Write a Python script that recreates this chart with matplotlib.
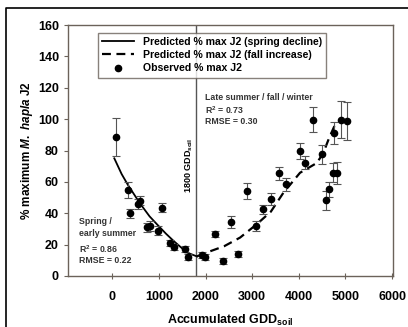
import matplotlib
matplotlib.use("Agg")
import matplotlib.pyplot as plt
from matplotlib.lines import Line2D

plt.rcParams['font.family'] = ['Liberation Sans', 'DejaVu Sans']
plt.rcParams['font.weight'] = 'bold'
plt.rcParams['axes.labelweight'] = 'bold'
plt.rcParams['mathtext.fontset'] = 'custom'
plt.rcParams['mathtext.rm'] = 'Liberation Sans:bold'
plt.rcParams['mathtext.it'] = 'Liberation Sans:italic:bold'
plt.rcParams['mathtext.bf'] = 'Liberation Sans:bold'

# observed % max J2
obs_x = [86, 336, 385, 550, 600, 743, 814, 978, 1064, 1242, 1313, 1563, 1620,
         1920, 1990, 2205, 2384, 2548, 2700, 2884, 3083, 3240, 3405, 3576, 3719,
         4026, 4133, 4297, 4504, 4582, 4653, 4739, 4824, 4760, 4897, 5025]
obs_y = [88.7, 55, 40, 46, 48, 31, 32, 29, 43.6, 21, 18.6, 17, 12,
         13.3, 12, 26.7, 9.7, 34.5, 14, 54, 32, 42.5, 49, 65.4, 58.4,
         79.6, 72.2, 99.7, 77.5, 48.3, 55.2, 65.8, 65.4, 91.2, 99.7, 99]
obs_err = [12, 5, 3, 3, 3, 3, 3, 3, 3, 2, 2, 2, 2,
           2, 2, 2, 2, 4, 2, 5, 3, 3, 4, 4, 4,
           5, 4, 8, 6, 6, 5, 6, 7, 7, 12, 12]

# predicted curves
spring_x = [43, 200, 336, 600, 800, 957, 1150, 1313, 1599, 1813]
spring_y = [75, 65, 58, 46, 38, 33, 27, 22.4, 15, 12.5]
fall_x = [1813, 2027, 2400, 2741, 3098, 3400, 3668, 4026, 4383, 4520, 4650, 4800]
fall_y = [12.5, 15, 19, 24.5, 33, 41, 53, 65.8, 72, 78, 88, 98]

xticks = [0, 1000, 2000, 3000, 4000, 5000, 6000]
yticks = [0, 20, 40, 60, 80, 100, 120, 140, 160]

fig = plt.figure(figsize=(4.08, 3.27), dpi=100)
ax = fig.add_axes([68 / 408, 1 - 276 / 327, 325 / 408, 251 / 327])

spine_c = '#6b625a'
for s in ax.spines.values():
    s.set_color(spine_c)
    s.set_linewidth(1.0)

ax.axvline(1800, color='#555555', lw=1.0)
ax.plot(spring_x, spring_y, color='black', lw=1.3)
ax.plot(fall_x, fall_y, color='black', lw=1.6, dashes=(4, 2.5))
ax.errorbar(obs_x, obs_y, yerr=obs_err, fmt='o', color='black', ms=4.5,
            ecolor='#555555', elinewidth=0.8, capsize=3, capthick=0.8)

ax.set_xlim(-950, 6020)
ax.set_ylim(0, 160)
ax.set_xticks(xticks)
ax.set_yticks(yticks)
ax.tick_params(axis='both', labelsize=9, color=spine_c, length=3, width=0.8)
ax.tick_params(axis='x', direction='inout', length=4, pad=9)

ax.set_xlabel('Accumulated GDD$_{\\mathrm{soil}}$', fontsize=9, labelpad=7)
ax.set_ylabel('% maximum $M.\\ hapla$ J2', fontsize=8.5, labelpad=2)

handles = [Line2D([], [], color='black', lw=1.3),
           Line2D([], [], color='black', lw=1.6, dashes=(4, 2.5)),
           Line2D([], [], color='black', marker='o', ms=4.5, ls='none')]
labels = ['Predicted % max J2 (spring decline)',
          'Predicted % max J2 (fall increase)',
          'Observed % max J2']
leg = ax.legend(handles, labels, loc='upper left', bbox_to_anchor=(0.075, 0.99),
                fontsize=7.6, frameon=True, fancybox=False, edgecolor=spine_c,
                borderpad=0.4, labelspacing=0.3, handlelength=3.0,
                handletextpad=0.9)
leg.get_frame().set_linewidth(1.0)

txt_c = '#333333'
ax.text(-720, 35, 'Spring /', fontsize=6.3, color=txt_c, va='center')
ax.text(-720, 26.8, 'early summer', fontsize=6.3, color=txt_c, va='center')
ax.text(-720, 17.2, 'R$^2$ = 0.86', fontsize=6.3, color=txt_c, va='center')
ax.text(-720, 9.8, 'RMSE = 0.22', fontsize=6.3, color=txt_c, va='center')

ax.text(1990, 114, 'Late summer / fall / winter', fontsize=6.3, color=txt_c, va='center')
ax.text(1990, 105.5, 'R$^2$ = 0.73', fontsize=6.3, color=txt_c, va='center')
ax.text(1990, 98.7, 'RMSE = 0.30', fontsize=6.3, color=txt_c, va='center')

ax.text(1650, 53, '1800 GDD$_{\\mathrm{soil}}$', fontsize=6.5, color='black',
        rotation=90, ha='center', va='bottom')

# outer frame (left and top)
fig.add_artist(Line2D([6 / 408, 6 / 408, 1.0], [0.0, 1 - 8 / 327, 1 - 8 / 327],
                      transform=fig.transFigure, color='black', lw=1.2))

fig.savefig('out.png', dpi=100)
